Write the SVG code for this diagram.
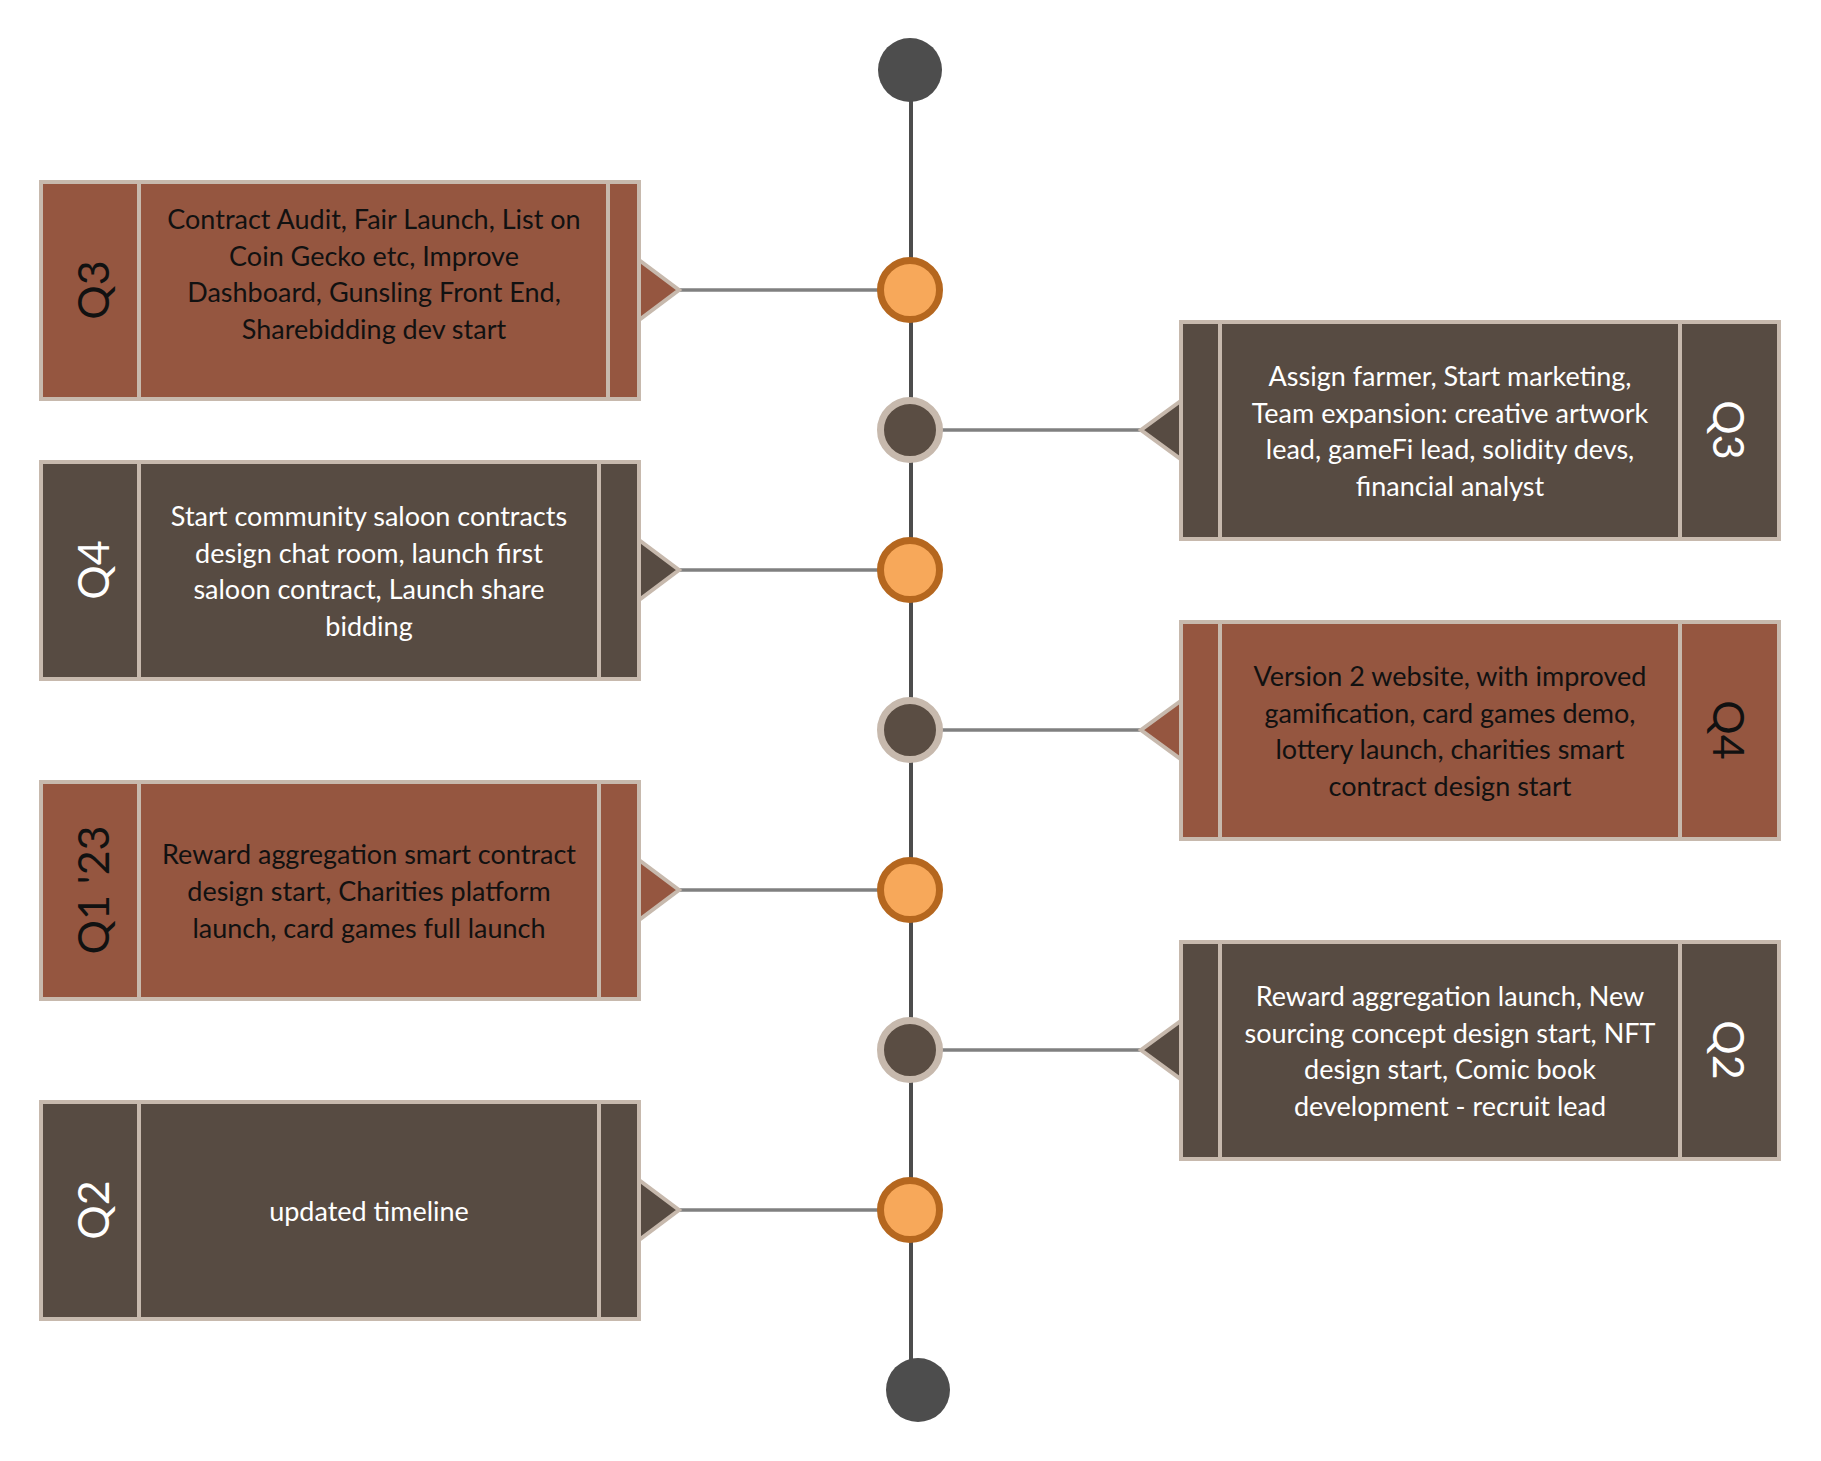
<svg xmlns="http://www.w3.org/2000/svg" width="1821" height="1461" viewBox="0 0 1821 1461">
<style>
.brown{fill:#955640;stroke:#C7B9AD;stroke-width:4}
.dark{fill:#574B42;stroke:#C7B9AD;stroke-width:4}
.div{stroke:#C7B9AD;stroke-width:4}
.conn{stroke:#808080;stroke-width:3.5;fill:none}
.spine{stroke:#4D4D4D;stroke-width:4;fill:none}
.orange{fill:#F7A85A;stroke:#B5671F;stroke-width:7}
.grey{fill:#5A4D43;stroke:#C7B9AD;stroke-width:7}
.end{fill:#4D4D4D}
.t{font-family:Lato,'Liberation Sans',sans-serif;font-size:27px;text-anchor:middle}
.lab{font-family:Lato,'Liberation Sans',sans-serif;font-size:43px;font-weight:400;text-anchor:middle;dominant-baseline:central}
.bk{fill:#111111}
.wh{fill:#FFFFFF}
</style>
<g id="connectors">
<line class="spine" x1="911" y1="70" x2="911" y2="1390"/>
<line class="conn" x1="678" y1="290" x2="878" y2="290"/>
<line class="conn" x1="942" y1="430" x2="1141" y2="430"/>
<line class="conn" x1="678" y1="570" x2="878" y2="570"/>
<line class="conn" x1="942" y1="730" x2="1141" y2="730"/>
<line class="conn" x1="678" y1="890" x2="878" y2="890"/>
<line class="conn" x1="942" y1="1050" x2="1141" y2="1050"/>
<line class="conn" x1="678" y1="1210" x2="878" y2="1210"/>
</g>
<g id="start"><circle class="end" cx="910" cy="70" r="32"/></g>
<g id="end"><circle class="end" cx="918" cy="1390" r="32"/></g>
<g id="dot1"><circle class="orange" cx="910" cy="290" r="29.5"/></g>
<g id="dot2"><circle class="grey" cx="910" cy="430" r="29.5"/></g>
<g id="dot3"><circle class="orange" cx="910" cy="570" r="29.5"/></g>
<g id="dot4"><circle class="grey" cx="910" cy="730" r="29.5"/></g>
<g id="dot5"><circle class="orange" cx="910" cy="890" r="29.5"/></g>
<g id="dot6"><circle class="grey" cx="910" cy="1050" r="29.5"/></g>
<g id="dot7"><circle class="orange" cx="910" cy="1210" r="29.5"/></g>

<g id="node-q3-left">
<polygon class="brown" points="639,260 679,290 639,320"/>
<rect class="brown" x="41" y="182" width="598" height="217"/>
<line class="div" x1="139" y1="182" x2="139" y2="399"/>
<line class="div" x1="608" y1="182" x2="608" y2="399"/>
<text class="lab bk" transform="translate(92,290) rotate(-90)">Q3</text>
<text class="t bk"><tspan x="374" y="228.5">Contract Audit, Fair Launch, List on</tspan><tspan x="374" y="265.5">Coin Gecko etc, Improve</tspan><tspan x="374" y="301.5">Dashboard, Gunsling Front End,</tspan><tspan x="374" y="338.5">Sharebidding dev start</tspan></text>
</g>

<g id="node-q3-right">
<polygon class="dark" points="1182,400 1141,430 1182,460"/>
<rect class="dark" x="1181" y="322" width="598" height="217"/>
<line class="div" x1="1220" y1="322" x2="1220" y2="539"/>
<line class="div" x1="1680" y1="322" x2="1680" y2="539"/>
<text class="lab wh" transform="translate(1729,430) rotate(90)">Q3</text>
<text class="t wh"><tspan x="1450" y="385.5">Assign farmer, Start marketing,</tspan><tspan x="1450" y="422.5">Team expansion: creative artwork</tspan><tspan x="1450" y="458.5">lead, gameFi lead, solidity devs,</tspan><tspan x="1450" y="495.5">financial analyst</tspan></text>
</g>

<g id="node-q4-left">
<polygon class="dark" points="639,540 679,570 639,600"/>
<rect class="dark" x="41" y="462" width="598" height="217"/>
<line class="div" x1="139" y1="462" x2="139" y2="679"/>
<line class="div" x1="599" y1="462" x2="599" y2="679"/>
<text class="lab wh" transform="translate(92,570) rotate(-90)">Q4</text>
<text class="t wh"><tspan x="369" y="525.5">Start community saloon contracts</tspan><tspan x="369" y="562.5">design chat room, launch first</tspan><tspan x="369" y="598.5">saloon contract, Launch share</tspan><tspan x="369" y="635.5">bidding</tspan></text>
</g>

<g id="node-q4-right">
<polygon class="brown" points="1182,700 1141,730 1182,760"/>
<rect class="brown" x="1181" y="622" width="598" height="217"/>
<line class="div" x1="1220" y1="622" x2="1220" y2="839"/>
<line class="div" x1="1680" y1="622" x2="1680" y2="839"/>
<text class="lab bk" transform="translate(1729,730) rotate(90)">Q4</text>
<text class="t bk"><tspan x="1450" y="685.5">Version 2 website, with improved</tspan><tspan x="1450" y="722.5">gamification, card games demo,</tspan><tspan x="1450" y="758.5">lottery launch, charities smart</tspan><tspan x="1450" y="795.5">contract design start</tspan></text>
</g>

<g id="node-q1-left">
<polygon class="brown" points="639,860 679,890 639,920"/>
<rect class="brown" x="41" y="782" width="598" height="217"/>
<line class="div" x1="139" y1="782" x2="139" y2="999"/>
<line class="div" x1="599" y1="782" x2="599" y2="999"/>
<text class="lab bk" transform="translate(92,890) rotate(-90)">Q1 '23</text>
<text class="t bk"><tspan x="369" y="863.5">Reward aggregation smart contract</tspan><tspan x="369" y="900.5">design start, Charities platform</tspan><tspan x="369" y="937.5">launch, card games full launch</tspan></text>
</g>

<g id="node-q2-right">
<polygon class="dark" points="1182,1020 1141,1050 1182,1080"/>
<rect class="dark" x="1181" y="942" width="598" height="217"/>
<line class="div" x1="1220" y1="942" x2="1220" y2="1159"/>
<line class="div" x1="1680" y1="942" x2="1680" y2="1159"/>
<text class="lab wh" transform="translate(1729,1050) rotate(90)">Q2</text>
<text class="t wh"><tspan x="1450" y="1005.5">Reward aggregation launch, New</tspan><tspan x="1450" y="1042.5">sourcing concept design start, NFT</tspan><tspan x="1450" y="1078.5">design start, Comic book</tspan><tspan x="1450" y="1115.5">development - recruit lead</tspan></text>
</g>

<g id="node-q2-left">
<polygon class="dark" points="639,1180 679,1210 639,1240"/>
<rect class="dark" x="41" y="1102" width="598" height="217"/>
<line class="div" x1="139" y1="1102" x2="139" y2="1319"/>
<line class="div" x1="599" y1="1102" x2="599" y2="1319"/>
<text class="lab wh" transform="translate(92,1210) rotate(-90)">Q2</text>
<text class="t wh"><tspan x="369" y="1220.5">updated timeline</tspan></text>
</g>
</svg>
